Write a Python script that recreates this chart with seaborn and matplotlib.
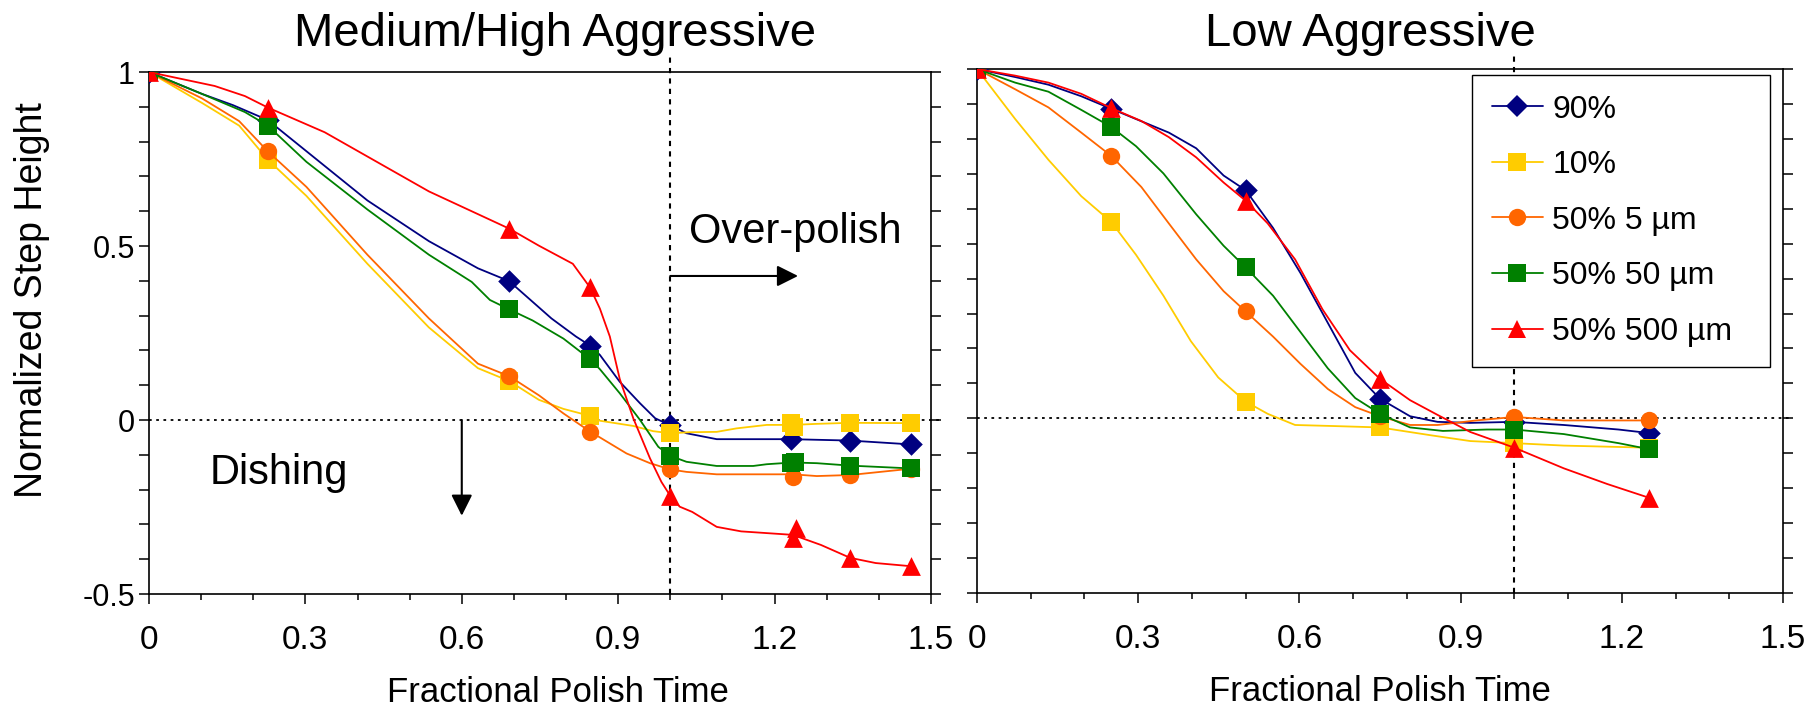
import matplotlib
matplotlib.use("Agg")
import matplotlib.pyplot as plt
from matplotlib.lines import Line2D
from matplotlib.ticker import FixedLocator, MultipleLocator, FixedFormatter
import numpy as np
import pandas as pd
import seaborn as sns

# ---------------------------------------------------------------- data
series_names = ["90%", "10%", "50% 5 µm", "50% 50 µm", "50% 500 µm"]
series_colors = ["#000080", "#FFCC00", "#FF6600", "#008000", "#FF0000"]
series_markers = ["D", "s", "o", "s", "^"]
series_msize = [11.5, 12.5, 12.5, 12.5, 13.5]

x_tick_values = [0, 0.3, 0.6, 0.9, 1.2, 1.5]
x_tick_labels = ["0", "0.3", "0.6", "0.9", "1.2", "1.5"]
y_tick_values = [-0.5, 0, 0.5, 1]
y_tick_labels = ["-0.5", "0", "0.5", "1"]

# Medium/High aggressive slurry: measured points
mh_pts_x = {
    "90%":        [0, 0.228, 0.691, 0.846, 1.0, 1.232, 1.345, 1.461],
    "10%":        [0, 0.228, 0.691, 0.846, 1.0, 1.231, 1.237, 1.345, 1.461],
    "50% 5 µm":   [0, 0.228, 0.691, 0.846, 1.0, 1.236, 1.345, 1.461],
    "50% 50 µm":  [0, 0.228, 0.691, 0.846, 1.0, 1.231, 1.240, 1.345, 1.461],
    "50% 500 µm": [0, 0.228, 0.691, 0.846, 1.0, 1.235, 1.241, 1.345, 1.461],
}
mh_pts_y = {
    "90%":        [1, 0.862, 0.399, 0.214, -0.015, -0.055, -0.059, -0.070],
    "10%":        [1, 0.748, 0.112, 0.012, -0.038, -0.008, -0.019, -0.008, -0.009],
    "50% 5 µm":   [1, 0.772, 0.126, -0.033, -0.142, -0.165, -0.158, -0.140],
    "50% 50 µm":  [1, 0.846, 0.318, 0.175, -0.103, -0.124, -0.120, -0.131, -0.139],
    "50% 500 µm": [1, 0.898, 0.550, 0.381, -0.218, -0.340, -0.311, -0.396, -0.420],
}
# Medium/High aggressive slurry: model curves
mh_fit_x = {
    "90%":        [0, 0.102, 0.161, 0.228, 0.419, 0.537, 0.631, 0.691, 0.772, 0.819, 0.846, 0.865,
                   0.903, 0.942, 0.971, 1.0, 1.031, 1.089, 1.231, 1.345, 1.461],
    "10%":        [0, 0.102, 0.173, 0.228, 0.302, 0.419, 0.537, 0.631, 0.691, 0.748, 0.795, 0.846,
                   0.865, 0.929, 0.967, 1.0, 1.038, 1.089, 1.127, 1.185, 1.235, 1.281, 1.345, 1.461],
    "50% 5 µm":   [0, 0.102, 0.173, 0.228, 0.302, 0.419, 0.537, 0.631, 0.691, 0.748, 0.795, 0.846,
                   0.865, 0.916, 0.961, 1.0, 1.031, 1.089, 1.235, 1.281, 1.345, 1.461],
    "50% 50 µm":  [0, 0.102, 0.184, 0.228, 0.302, 0.419, 0.537, 0.619, 0.654, 0.691, 0.736, 0.795,
                   0.846, 0.865, 0.903, 0.942, 0.977, 1.0, 1.031, 1.089, 1.159, 1.185, 1.235, 1.281,
                   1.345, 1.461],
    "50% 500 µm": [0, 0.126, 0.184, 0.228, 0.337, 0.537, 0.691, 0.748, 0.813, 0.846, 0.865, 0.884,
                   0.903, 0.929, 0.961, 0.983, 1.0, 1.018, 1.042, 1.089, 1.136, 1.235, 1.289, 1.345,
                   1.394, 1.461],
}
mh_fit_y = {
    "90%":        [1, 0.937, 0.905, 0.862, 0.631, 0.514, 0.436, 0.399, 0.292, 0.240, 0.214, 0.187,
                   0.110, 0.048, 0.005, -0.015, -0.038, -0.055, -0.055, -0.059, -0.070],
    "10%":        [1, 0.911, 0.846, 0.748, 0.644, 0.449, 0.266, 0.149, 0.112, 0.058, 0.032, 0.012,
                   -0.002, -0.017, -0.032, -0.038, -0.035, -0.034, -0.024, -0.014, -0.014, -0.011,
                   -0.008, -0.009],
    "50% 5 µm":   [1, 0.924, 0.859, 0.772, 0.670, 0.475, 0.292, 0.162, 0.126, 0.071, 0.019, -0.033,
                   -0.050, -0.096, -0.124, -0.142, -0.149, -0.156, -0.156, -0.161, -0.158, -0.140],
    "50% 50 µm":  [1, 0.937, 0.885, 0.846, 0.742, 0.605, 0.475, 0.397, 0.345, 0.318, 0.286, 0.234,
                   0.175, 0.146, 0.077, 0.0, -0.077, -0.103, -0.120, -0.132, -0.132, -0.127, -0.122,
                   -0.124, -0.131, -0.139],
    "50% 500 µm": [1, 0.960, 0.931, 0.898, 0.827, 0.657, 0.550, 0.501, 0.449, 0.381, 0.320, 0.240,
                   0.118, 0.005, -0.110, -0.178, -0.218, -0.249, -0.264, -0.307, -0.320, -0.330,
                   -0.359, -0.396, -0.411, -0.420],
}

# Low aggressive slurry: measured points
low_pts_x = [0, 0.25, 0.5, 0.75, 1.0, 1.25]
low_pts_y = {
    "90%":        [1, 0.886, 0.653, 0.056, -0.010, -0.042],
    "10%":        [1, 0.562, 0.048, -0.026, -0.071, -0.084],
    "50% 5 µm":   [1, 0.751, 0.306, 0.006, 0.004, -0.006],
    "50% 50 µm":  [1, 0.834, 0.432, 0.013, -0.032, -0.088],
    "50% 500 µm": [1, 0.888, 0.623, 0.113, -0.084, -0.227],
}
# Low aggressive slurry: model curves
low_fit_x = {
    "90%":        [0, 0.071, 0.133, 0.194, 0.25, 0.316, 0.357, 0.408, 0.459, 0.5, 0.551, 0.602,
                   0.653, 0.704, 0.75, 0.806, 0.857, 0.918, 1.0, 1.092, 1.194, 1.25],
    "10%":        [0, 0.071, 0.133, 0.194, 0.25, 0.296, 0.347, 0.398, 0.449, 0.5, 0.541, 0.592,
                   0.663, 0.75, 0.847, 0.918, 1.0, 1.092, 1.25],
    "50% 5 µm":   [0, 0.071, 0.133, 0.194, 0.25, 0.306, 0.357, 0.408, 0.459, 0.5, 0.551, 0.602,
                   0.653, 0.704, 0.75, 0.806, 0.857, 0.929, 1.0, 1.092, 1.25],
    "50% 50 µm":  [0, 0.071, 0.133, 0.194, 0.25, 0.296, 0.347, 0.408, 0.459, 0.5, 0.551, 0.602,
                   0.653, 0.704, 0.75, 0.806, 0.867, 0.949, 1.0, 1.092, 1.194, 1.25],
    "50% 500 µm": [0, 0.071, 0.133, 0.194, 0.25, 0.306, 0.357, 0.408, 0.459, 0.5, 0.541, 0.592,
                   0.643, 0.694, 0.75, 0.806, 0.857, 0.918, 1.0, 1.092, 1.173, 1.25],
}
low_fit_y = {
    "90%":        [1, 0.977, 0.955, 0.922, 0.886, 0.844, 0.818, 0.773, 0.695, 0.653, 0.545, 0.416,
                   0.273, 0.130, 0.056, 0.006, -0.010, -0.013, -0.010, -0.019, -0.032, -0.042],
    "10%":        [1, 0.857, 0.740, 0.636, 0.562, 0.468, 0.351, 0.221, 0.117, 0.048, 0.013, -0.019,
                   -0.022, -0.026, -0.049, -0.065, -0.071, -0.078, -0.084],
    "50% 5 µm":   [1, 0.942, 0.890, 0.818, 0.751, 0.662, 0.558, 0.455, 0.364, 0.306, 0.234, 0.156,
                   0.084, 0.032, 0.006, -0.019, -0.019, -0.006, 0.004, -0.006, -0.006],
    "50% 50 µm":  [1, 0.961, 0.935, 0.883, 0.834, 0.779, 0.701, 0.584, 0.494, 0.432, 0.351, 0.247,
                   0.143, 0.058, 0.013, -0.026, -0.036, -0.032, -0.032, -0.045, -0.071, -0.088],
    "50% 500 µm": [1, 0.981, 0.961, 0.929, 0.888, 0.851, 0.805, 0.747, 0.675, 0.623, 0.558, 0.455,
                   0.312, 0.195, 0.113, 0.052, 0.010, -0.039, -0.084, -0.143, -0.188, -0.227],
}

# ---------------------------------------------------------------- style
sns.set_theme(style="white")
plt.rcParams["font.family"] = ["Liberation Sans", "DejaVu Sans"]
plt.rcParams["axes.edgecolor"] = "black"
plt.rcParams["axes.linewidth"] = 1.2

fig = plt.figure(figsize=(18.19, 7.12), dpi=100)
fig.patch.set_facecolor("white")
ax_mh = fig.add_axes([0.0819, 0.1657, 0.4299, 0.7331])
ax_low = fig.add_axes([0.5371, 0.1671, 0.4431, 0.7360])


def draw_series(ax, fit_x, fit_y, pts_x, pts_y):
    for k, name in enumerate(series_names):
        color = series_colors[k]
        fit = pd.DataFrame({"t": fit_x[name], "h": fit_y[name]})
        sns.lineplot(data=fit, x="t", y="h", ax=ax, color=color, lw=1.3,
                     sort=False, estimator=None, zorder=3 + 2 * k)
        px = pts_x[name] if isinstance(pts_x, dict) else pts_x
        pts = pd.DataFrame({"t": px, "h": pts_y[name]})
        sns.scatterplot(data=pts, x="t", y="h", ax=ax, color=color,
                        marker=series_markers[k], s=series_msize[k] ** 2,
                        linewidth=0, zorder=4 + 2 * k)


def style_axes(ax, with_labels):
    ax.set_xlim(0, 1.5)
    ax.set_ylim(-0.5, 1)
    ax.set_facecolor("white")
    for sp in ax.spines.values():
        sp.set_visible(True)
        sp.set_color("black")
        sp.set_linewidth(1.2)
    ax.xaxis.set_major_locator(FixedLocator(x_tick_values))
    ax.xaxis.set_major_formatter(FixedFormatter(x_tick_labels))
    ax.xaxis.set_minor_locator(MultipleLocator(0.1))
    ax.yaxis.set_major_locator(FixedLocator(y_tick_values))
    ax.yaxis.set_major_formatter(FixedFormatter(y_tick_labels))
    ax.yaxis.set_minor_locator(MultipleLocator(0.1))
    ax.tick_params(axis="x", which="major", direction="out", length=7, width=1.1,
                   colors="black", labelsize=24, pad=15, bottom=True, top=False)
    ax.tick_params(axis="x", which="minor", direction="out", length=4.5, width=1.1,
                   colors="black", bottom=True, top=False)
    ax.tick_params(axis="y", which="both", direction="out", length=7, width=1.1,
                   colors="black", left=True, right=True, labelsize=22, pad=3,
                   labelleft=with_labels)
    ax.set_xlabel("Fractional Polish Time", fontsize=25, color="black")
    # reference lines: zero step height and end of nominal polish
    ax.axhline(0, xmin=0, xmax=1.01, color="black", lw=1.3, ls=(0, (1.5, 2.5)),
               clip_on=False, zorder=2)
    ax.axvline(1.0, ymin=0, ymax=1.03, color="black", lw=1.5, ls=(0, (2.5, 2.5)),
               clip_on=False, zorder=2)


draw_series(ax_mh, mh_fit_x, mh_fit_y, mh_pts_x, mh_pts_y)
draw_series(ax_low, low_fit_x, low_fit_y, low_pts_x, low_pts_y)
style_axes(ax_mh, True)
style_axes(ax_low, False)

ax_mh.set_ylabel("Normalized Step Height", fontsize=27, color="black")
ax_mh.yaxis.set_label_coords(-0.127, 0.563)
ax_low.set_ylabel("")
ax_mh.xaxis.set_label_coords(0.523, -0.157)
ax_low.xaxis.set_label_coords(0.5, -0.157)

ax_mh.text(0.519, 1.0498, "Medium/High Aggressive", transform=ax_mh.transAxes,
           ha="center", va="baseline", fontsize=34, color="black")
ax_low.text(0.488, 1.0439, "Low Aggressive", transform=ax_low.transAxes,
            ha="center", va="baseline", fontsize=34, color="black")

# annotations on the Medium/High panel
ax_mh.text(1.036, 0.539, "Over-polish", ha="left", va="center", fontsize=30, color="black")
ax_mh.annotate("", xy=(1.245, 0.414), xytext=(1.0, 0.414),
               arrowprops=dict(arrowstyle="-|>", color="black", lw=1.5,
                               mutation_scale=32, shrinkA=0, shrinkB=0))
ax_mh.text(0.117, -0.152, "Dishing", ha="left", va="center", fontsize=30, color="black")
ax_mh.annotate("", xy=(0.6, -0.275), xytext=(0.6, 0.0),
               arrowprops=dict(arrowstyle="-|>", color="black", lw=1.5,
                               mutation_scale=32, shrinkA=0, shrinkB=0))

# legend on the Low panel
handles = [Line2D([], [], color=series_colors[k], lw=1.3, marker=series_markers[k],
                  markersize=series_msize[k], markeredgewidth=0)
           for k in range(len(series_names))]
leg = ax_low.legend(handles, series_names, loc="upper left",
                    bbox_to_anchor=(0.614, 0.435, 0.370, 0.554), mode="expand",
                    frameon=True, fancybox=False,
                    framealpha=1, facecolor="white", edgecolor="black", fontsize=23,
                    handlelength=1.6, handletextpad=0.3, labelspacing=0.8,
                    borderpad=0.62, borderaxespad=0)
leg.get_frame().set_linewidth(1.0)
leg.set_zorder(20)
for txt in leg.get_texts():
    txt.set_color("black")

fig.savefig("out.png", dpi=100, facecolor="white")
